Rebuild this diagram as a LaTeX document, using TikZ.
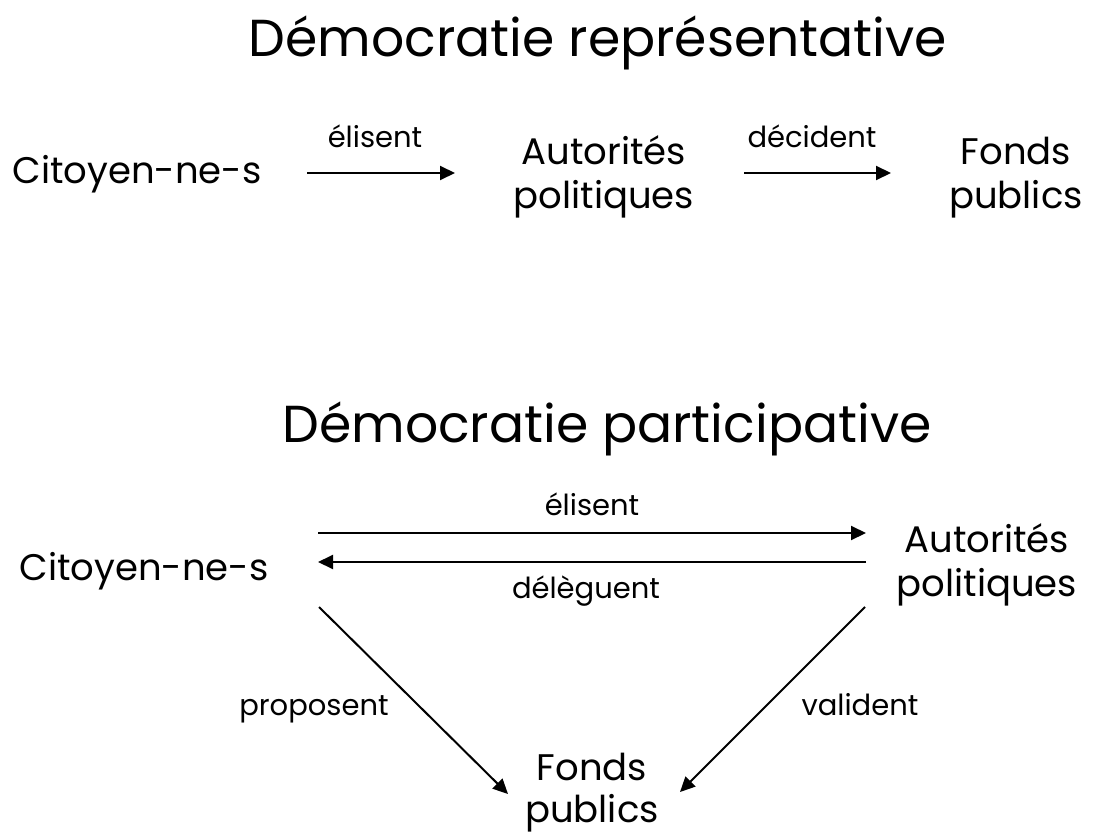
\documentclass[tikz,border=0pt]{standalone}
\usepackage{fontspec}
\setmainfont{Poppins}
\usetikzlibrary{arrows.meta}
\begin{document}
\begin{tikzpicture}[x=1pt,y=-1pt,
  lbl/.style={font=\fontsize{37}{44}\selectfont, align=center, inner sep=0pt, anchor=base},
  ttl/.style={font=\fontsize{52}{60}\selectfont, inner sep=0pt, anchor=base},
  edg/.style={font=\fontsize{29}{34}\selectfont, inner sep=0pt, anchor=base},
  arr/.style={line width=2pt, -{Triangle[length=15pt,width=14pt]}}]
\useasboundingbox (0,0) rectangle (1094,837);
% top
\node[ttl] (t1) at (598,57) {Démocratie représentative};
\node[lbl] (c1) at (137,183) {Citoyen-ne-s};
\node[lbl] (a1) at (604,208) {Autorités\\politiques};
\node[lbl] (f1) at (1016,208) {Fonds\\publics};
\coordinate (p1) at (307,173);
\coordinate (p2) at (455,173);
\coordinate (p3) at (744,173);
\coordinate (p4) at (891,173);
\draw[arr] (p1) -- (p2);
\draw[arr] (p3) -- (p4);
\node[edg] (e1) at (375,148) {élisent};
\node[edg] (e2) at (812,148) {décident};
% bottom
\node[ttl] (t2) at (607,442) {Démocratie participative};
\node[lbl] (c2) at (144,580) {Citoyen-ne-s};
\node[lbl] (a2) at (987,596) {Autorités\\politiques};
\node[lbl, font=\fontsize{37}{42}\selectfont] (f2) at (592,822) {Fonds\\publics};
\coordinate (q1) at (318,533);
\coordinate (q2) at (866,533);
\coordinate (q3) at (866,562);
\coordinate (q4) at (318,562);
\draw[arr] (q1) -- (q2);
\draw[arr] (q3) -- (q4);
\node[edg] (e3) at (592,515) {élisent};
\node[edg] (e4) at (586,598) {délèguent};
\coordinate (r1) at (319,607);
\coordinate (r2) at (508,794);
\coordinate (r3) at (865,607);
\coordinate (r4) at (680,792);
\draw[arr] (r1) -- (r2);
\draw[arr] (r3) -- (r4);
\node[edg] (e5) at (314,715) {proposent};
\node[edg] (e6) at (860,715) {valident};
\end{tikzpicture}
\end{document}
